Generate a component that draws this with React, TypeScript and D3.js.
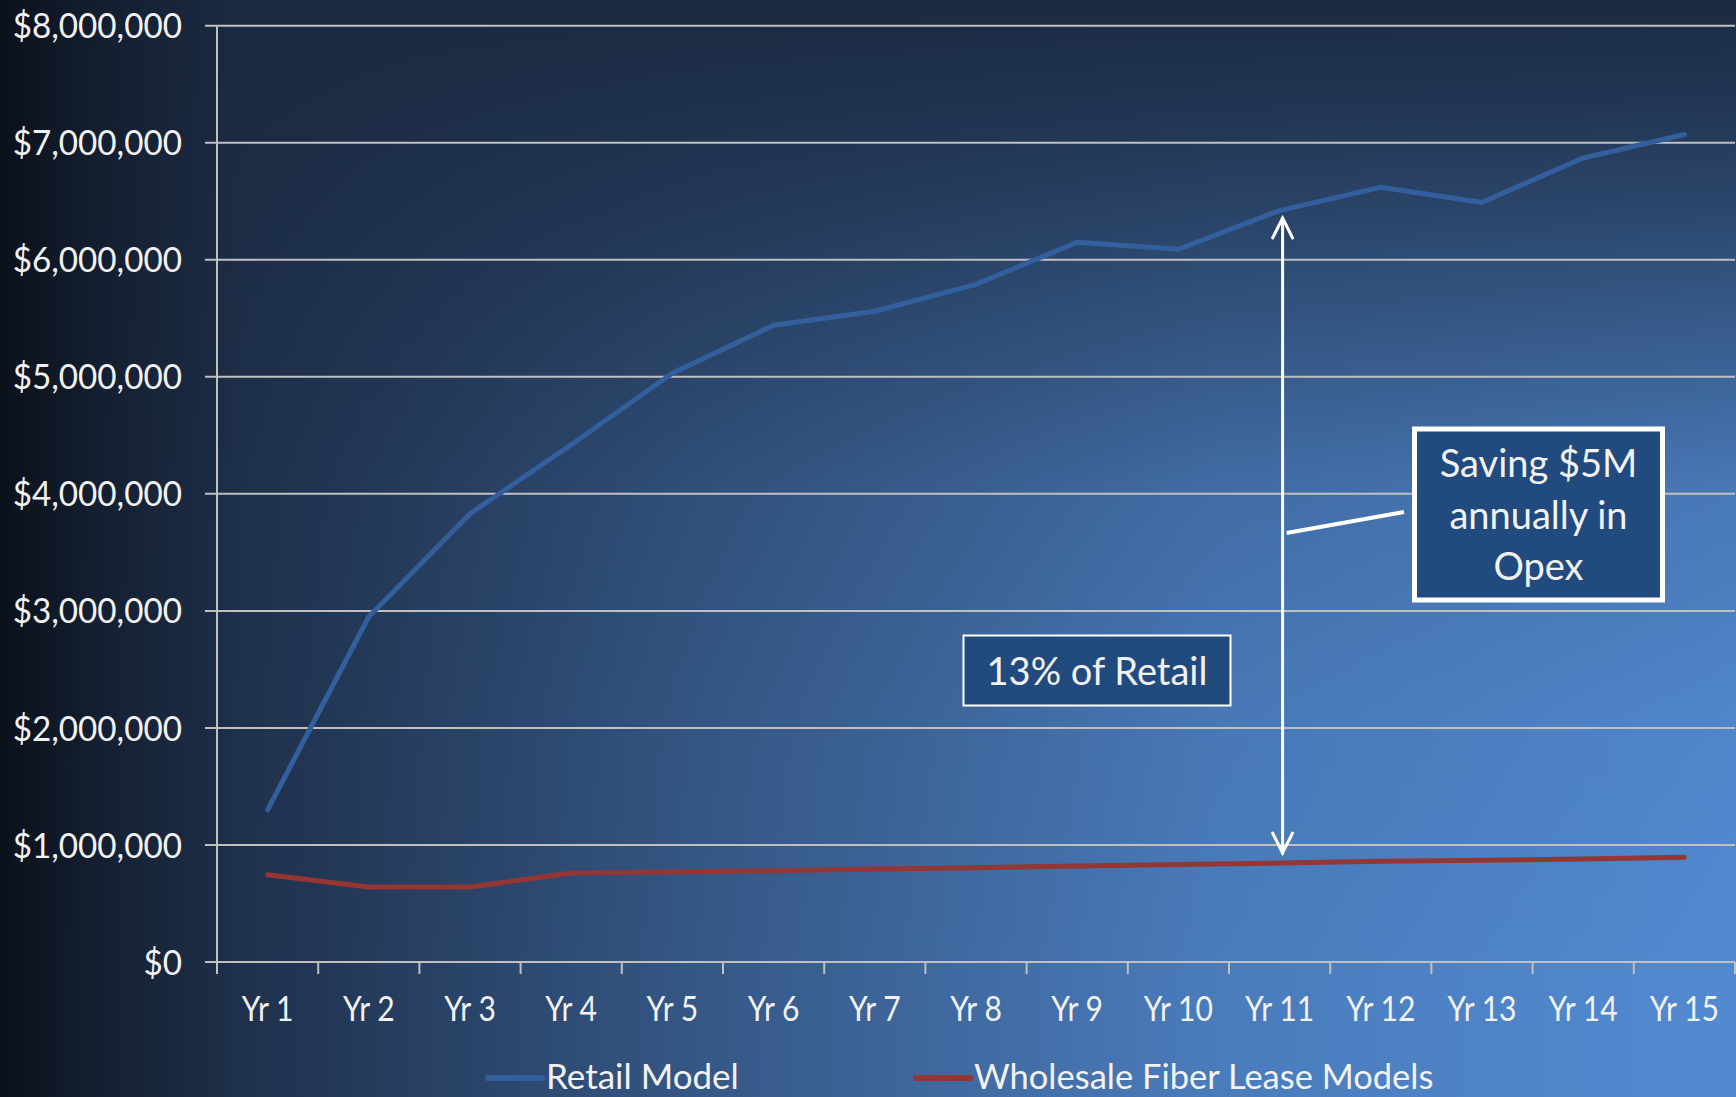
import React from "react";
import * as d3 from "d3";

const years = ["Yr 1","Yr 2","Yr 3","Yr 4","Yr 5","Yr 6","Yr 7","Yr 8","Yr 9","Yr 10","Yr 11","Yr 12","Yr 13","Yr 14","Yr 15"];
const retailModel = [1300000, 2950000, 3830000, 4420000, 5030000, 5440000, 5560000, 5790000, 6150000, 6090000, 6420000, 6620000, 6490000, 6870000, 7070000];
const wholesaleModel = [745000, 640000, 640000, 760000, 770000, 780000, 795000, 805000, 820000, 833000, 845000, 860000, 870000, 880000, 895000];
const yTickValues = [0, 1000000, 2000000, 3000000, 4000000, 5000000, 6000000, 7000000, 8000000];
const seriesNames = ["Retail Model", "Wholesale Fiber Lease Models"];
const gapLabel = "13% of Retail";
const savingLines = ["Saving $5M", "annually in", "Opex"];

const W = 1736, H = 1097;
const left = 217, right = 1735, top = 25.7, bottom = 962;
const FONT = "Lato, 'Open Sans', sans-serif";
const TXT = "#f2f2f2";
const DARK = "#1b2a42";

export default function App() {
  const x = d3.scaleBand<string>().domain(years).range([left, right]).padding(0);
  const y = d3.scaleLinear().domain([0, 8000000]).range([bottom, top]);
  const cx = (d: string) => (x(d) as number) + x.bandwidth() / 2;
  const line = d3.line<number>().x((_, i) => cx(years[i])).y((v) => y(v));
  const fmt = (v: number) => "$" + d3.format(",")(v);
  const boundaries = d3.range(years.length + 1).map((i) => left + i * x.bandwidth());

  const arrowX = cx("Yr 11") + 3;
  const arrowTop = 218;
  const arrowBot = 853;

  return (
    <svg width={W} height={H} style={{ position: "absolute", left: 0, top: 0, display: "block" }} fontFamily={FONT}>
      <defs>
        <linearGradient id="hShade" x1="0" y1="0" x2={W} y2="0" gradientUnits="userSpaceOnUse">
          <stop offset="0" stopColor={DARK} stopOpacity="1" />
          <stop offset="0.12" stopColor={DARK} stopOpacity="0.95" />
          <stop offset="0.18" stopColor={DARK} stopOpacity="0.87" />
          <stop offset="0.4" stopColor={DARK} stopOpacity="0.53" />
          <stop offset="0.58" stopColor={DARK} stopOpacity="0.3" />
          <stop offset="0.7" stopColor={DARK} stopOpacity="0.15" />
          <stop offset="1" stopColor={DARK} stopOpacity="0" />
        </linearGradient>
        <linearGradient id="vShade" x1="0" y1="0" x2="0" y2={H} gradientUnits="userSpaceOnUse">
          <stop offset="0" stopColor={DARK} stopOpacity="1" />
          <stop offset="0.09" stopColor={DARK} stopOpacity="0.88" />
          <stop offset="0.19" stopColor={DARK} stopOpacity="0.7" />
          <stop offset="0.45" stopColor={DARK} stopOpacity="0.18" />
          <stop offset="0.65" stopColor={DARK} stopOpacity="0.05" />
          <stop offset="0.9" stopColor={DARK} stopOpacity="0" />
        </linearGradient>
        <linearGradient id="leftShade" x1="0" y1="0" x2="240" y2="0" gradientUnits="userSpaceOnUse">
          <stop offset="0" stopColor="#000000" stopOpacity="0.6" />
          <stop offset="0.4" stopColor="#000000" stopOpacity="0.3" />
          <stop offset="1" stopColor="#000000" stopOpacity="0" />
        </linearGradient>
      </defs>
      <rect x={0} y={0} width={W} height={H} fill="#528ad1" />
      <rect x={0} y={0} width={W} height={H} fill="url(#hShade)" />
      <rect x={0} y={0} width={W} height={H} fill="url(#vShade)" />
      <rect x={0} y={0} width={W} height={H} fill="url(#leftShade)" />

      {/* gridlines */}
      {yTickValues.map((v) => (
        <line key={v} x1={205} x2={right} y1={y(v)} y2={y(v)} stroke="#c0c0c0" strokeWidth={2} />
      ))}
      {/* y axis */}
      <line x1={left} x2={left} y1={top} y2={bottom + 12} stroke="#c0c0c0" strokeWidth={2} />
      {boundaries.map((bx, i) => (
        <line key={i} x1={bx} x2={bx} y1={bottom} y2={bottom + 12} stroke="#c0c0c0" strokeWidth={2} />
      ))}
      {yTickValues.map((v) => (
        <text key={v} x={182} y={y(v)} dy="0.36em" textAnchor="end" fontSize={35} fill={TXT}
          transform={`translate(182,0) scale(0.95,1) translate(-182,0)`}>
          {fmt(v)}
        </text>
      ))}
      {years.map((d) => (
        <text key={d} x={cx(d)} y={1021} textAnchor="middle" fontSize={35} fill={TXT}
          transform={`translate(${cx(d)},0) scale(0.86,1) translate(${-cx(d)},0)`}>
          {d}
        </text>
      ))}

      {/* series */}
      <path d={line(retailModel) || ""} fill="none" stroke="#33609c" strokeWidth={5} strokeLinejoin="round" strokeLinecap="round" />
      <path d={line(wholesaleModel) || ""} fill="none" stroke="#943634" strokeWidth={5} strokeLinejoin="round" strokeLinecap="round" />

      {/* double arrow */}
      <g stroke="#ffffff" strokeWidth={3} fill="none" strokeLinecap="round" strokeLinejoin="miter">
        <line x1={arrowX} x2={arrowX} y1={arrowTop} y2={arrowBot} />
        <polyline points={`${arrowX - 10},${arrowTop + 20} ${arrowX},${arrowTop} ${arrowX + 10},${arrowTop + 20}`} />
        <polyline points={`${arrowX - 10},${arrowBot - 20} ${arrowX},${arrowBot} ${arrowX + 10},${arrowBot - 20}`} />
      </g>
      {/* leader */}
      <line x1={arrowX + 4} y1={533} x2={1404} y2={512} stroke="#ffffff" strokeWidth={4} />

      {/* 13% box */}
      <rect x={963.5} y={635.5} width={267} height={70} fill="#214a7e" stroke="#ffffff" strokeWidth={2} />
      <text x={1097} y={685} textAnchor="middle" fontSize={38} fill={TXT}>{gapLabel}</text>

      {/* saving box */}
      <rect x={1414.5} y={429} width={248} height={171} fill="#214a7e" stroke="#ffffff" strokeWidth={5} />
      {savingLines.map((t, i) => (
        <text key={t} x={1538.5} y={477 + i * 51.5} textAnchor="middle" fontSize={38} fill={TXT}>{t}</text>
      ))}

      {/* legend */}
      <line x1={488} x2={542} y1={1078} y2={1078} stroke="#33609c" strokeWidth={6} strokeLinecap="round" />
      <text x={546} y={1089} fontSize={35} fill={TXT}>{seriesNames[0]}</text>
      <line x1={916} x2={970} y1={1078} y2={1078} stroke="#943634" strokeWidth={6} strokeLinecap="round" />
      <text x={974} y={1089} fontSize={34.5} fill={TXT}>{seriesNames[1]}</text>
    </svg>
  );
}
